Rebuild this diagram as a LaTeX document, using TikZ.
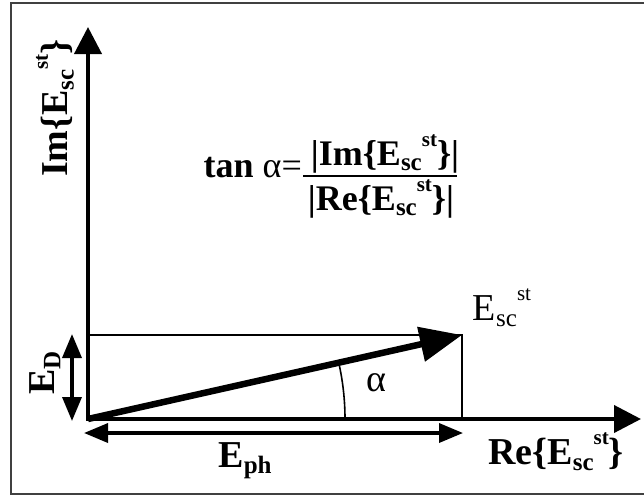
\documentclass[tikz,border=0pt]{standalone}
\usepackage{fontspec}
\setmainfont{Liberation Serif}
\usetikzlibrary{arrows.meta}
\newcommand\Esc{E\raisebox{-0.16em}{\fontsize{25}{25}\selectfont sc}\raisebox{0.52em}{\fontsize{21}{21}\selectfont st}}
\begin{document}
\begin{tikzpicture}[x=1pt,y=-1pt,
  axis/.style={line width=4pt,-{Triangle[length=27pt,width=27pt]}},
  dbl/.style={line width=3.5pt,{Triangle[length=24pt,width=19pt]}-{Triangle[length=24pt,width=19pt]}},
  thin/.style={line width=1.3pt},
  lbl/.style={inner sep=0pt,font=\fontsize{38}{44}\selectfont\bfseries},
  flbl/.style={inner sep=0pt,anchor=base,font=\fontsize{36}{42}\selectfont\bfseries},
  rlbl/.style={inner sep=0pt,font=\fontsize{38}{44}\selectfont}]
\useasboundingbox (0,0) rectangle (644,498);
\draw[black!75,line width=1.3pt] (645,3) -- (11,3) -- (11,494) -- (645,494);
\coordinate (O) at (88,419);
\coordinate (Yt) at (88,27);
\coordinate (Xt) at (641,419);
\coordinate (P) at (462,335);
\coordinate (Py) at (88,335);
\coordinate (Px) at (462,419);
\coordinate (D1) at (72,334);
\coordinate (D2) at (72,421);
\coordinate (H1) at (84,433);
\coordinate (H2) at (463,433);
\coordinate (F1) at (303,176);
\coordinate (F2) at (457,176);
\draw[thin] (Py) -- (P) -- (Px);
\draw[axis] (O) -- (Yt);
\draw[axis] ([xshift=-2pt]O) -- (Xt);
\draw[line width=6.5pt,-{Triangle[length=42pt,width=34pt]}] (O) -- (P);
\draw[line width=1.6pt] ([shift={(0:257pt)}]O) arc[start angle=0,end angle=12.7,radius=257pt];
\draw[dbl] (D1) -- (D2);
\draw[dbl] (H1) -- (H2);
\node[lbl,rotate=90] (im) at (55,108) {Im\{\Esc\}};
\node[lbl,rotate=90] (ed) at (45,373) {E\raisebox{-0.16em}{\fontsize{25}{25}\selectfont D}};
\node[lbl] (eph) at (245,461) {E\raisebox{-0.16em}{\fontsize{25}{25}\selectfont ph}};
\node[lbl] (re) at (556,452) {Re\{\Esc\}};
\node[rlbl] (al) at (376,383) {α};
\node[rlbl] (ev) at (502,308) {\Esc};
\node[flbl,anchor=base east] (tan) at (302,177) {tan \mdseries α=};
\node[flbl] (num) at (385,165) {|Im\{\Esc\}|};
\node[flbl] (den) at (381,210) {|Re\{\Esc\}|};
\draw[line width=1.2pt] (F1) -- (F2);
\end{tikzpicture}
\end{document}
